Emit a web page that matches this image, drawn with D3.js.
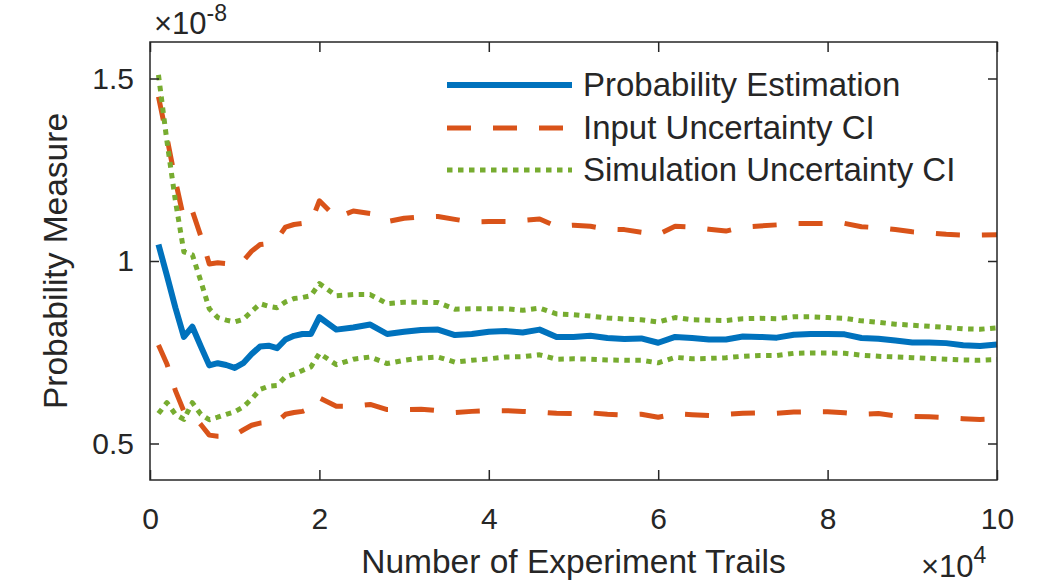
<!DOCTYPE html>
<html lang="en">
<head>
<meta charset="UTF-8">
<title>Probability Measure vs Number of Experiment Trails</title>
<script src="https://cdn.jsdelivr.net/npm/d3@7"></script>
<style>
    body { margin: 0; background: #fff; }
    text { font-family: "Liberation Sans", Arial, Helvetica, sans-serif; fill: #262626; }
</style>
</head>
<body>
<script>

    // number of trails (x)
    var trails = [1000, 2000, 3000, 4000, 5000, 6000, 7000, 8000, 9000, 10000,
        11000, 12000, 13000, 14000, 15000, 16000, 17000, 18000, 19000, 20000,
        22000, 24000, 26000, 28000, 30000, 32000, 34000, 36000, 38000, 40000,
        42000, 44000, 46000, 48000, 50000, 52000, 54000, 56000, 58000, 60000,
        62000, 64000, 66000, 68000, 70000, 72000, 74000, 76000, 78000, 80000,
        82000, 84000, 86000, 88000, 90000, 92000, 94000, 96000, 98000, 100000];

    // values in units of 1e-8
    var estimate = [1.045, 0.960, 0.872, 0.792, 0.820, 0.766, 0.714, 0.720, 0.715, 0.707,
        0.720, 0.745, 0.766, 0.768, 0.761, 0.785, 0.795, 0.800, 0.800, 0.846,
        0.812, 0.818, 0.826, 0.800, 0.806, 0.811, 0.812, 0.797, 0.800, 0.806,
        0.808, 0.804, 0.812, 0.792, 0.792, 0.795, 0.789, 0.786, 0.788, 0.776,
        0.792, 0.789, 0.785, 0.785, 0.793, 0.792, 0.790, 0.798, 0.800, 0.800,
        0.799, 0.789, 0.787, 0.782, 0.777, 0.777, 0.775, 0.769, 0.767, 0.771];

    var inputHigh = [1.450, 1.338, 1.220, 1.115, 1.137, 1.068, 0.992, 0.995, 0.993, 0.990,
        1.000, 1.027, 1.045, 1.048, 1.060, 1.093, 1.100, 1.103, 1.106, 1.165,
        1.118, 1.137, 1.130, 1.108, 1.117, 1.121, 1.122, 1.114, 1.107, 1.108,
        1.108, 1.111, 1.115, 1.095, 1.098, 1.095, 1.087, 1.086, 1.079, 1.073,
        1.095, 1.093, 1.087, 1.082, 1.093, 1.096, 1.099, 1.103, 1.103, 1.103,
        1.103, 1.094, 1.091, 1.086, 1.080, 1.077, 1.073, 1.071, 1.071, 1.072];

    var inputLow = [0.770, 0.718, 0.645, 0.588, 0.578, 0.552, 0.523, 0.520, 0.520, 0.523,
        0.537, 0.550, 0.556, 0.558, 0.559, 0.580, 0.585, 0.588, 0.597, 0.625,
        0.602, 0.602, 0.607, 0.593, 0.593, 0.594, 0.590, 0.585, 0.588, 0.590,
        0.590, 0.588, 0.586, 0.583, 0.582, 0.584, 0.580, 0.578, 0.580, 0.572,
        0.581, 0.579, 0.577, 0.580, 0.583, 0.584, 0.583, 0.586, 0.587, 0.587,
        0.584, 0.580, 0.582, 0.576, 0.574, 0.573, 0.571, 0.568, 0.566, 0.568];

    var simHigh = [1.510, 1.328, 1.165, 1.025, 1.017, 0.945, 0.869, 0.845, 0.838, 0.833,
        0.840, 0.862, 0.883, 0.876, 0.872, 0.888, 0.897, 0.900, 0.905, 0.938,
        0.905, 0.908, 0.908, 0.883, 0.887, 0.887, 0.886, 0.868, 0.869, 0.869,
        0.869, 0.865, 0.871, 0.855, 0.853, 0.849, 0.844, 0.841, 0.839, 0.833,
        0.845, 0.839, 0.838, 0.837, 0.842, 0.843, 0.842, 0.847, 0.847, 0.845,
        0.843, 0.836, 0.832, 0.827, 0.824, 0.821, 0.818, 0.814, 0.813, 0.817];

    var simLow = [0.582, 0.612, 0.580, 0.566, 0.612, 0.580, 0.565, 0.572, 0.580, 0.587,
        0.600, 0.622, 0.648, 0.657, 0.659, 0.683, 0.690, 0.700, 0.710, 0.747,
        0.716, 0.731, 0.737, 0.719, 0.728, 0.734, 0.737, 0.723, 0.728, 0.732,
        0.737, 0.738, 0.743, 0.731, 0.732, 0.731, 0.729, 0.728, 0.728, 0.721,
        0.736, 0.732, 0.733, 0.735, 0.739, 0.741, 0.741, 0.747, 0.748, 0.748,
        0.747, 0.742, 0.739, 0.737, 0.735, 0.733, 0.731, 0.729, 0.728, 0.730];

    var xTicks = [0, 20000, 40000, 60000, 80000, 100000];
    var yTicks = [0.5, 1, 1.5];

    var legendNames = ["Probability Estimation", "Input Uncertainty CI", "Simulation Uncertainty CI"];
</script>

<script>
    var width = 1050, height = 585;
    // 绘图区边界 (window.top 是只读的, 所以不用 top 做变量名)
    var plotL = 150, plotR = 997, plotT = 42, plotB = 480;
    var axisColor = "#262626";

    var svg = d3.select("body").append("svg")
        .attr("width", width)
        .attr("height", height);

    var x = d3.scaleLinear().domain([0, 100000]).range([plotL, plotR]);
    var y = d3.scaleLinear().domain([0.4, 1.6]).range([plotB, plotT]);

    // 线条样式
    var styles = {
        est: {color: "#0072BD", width: 6, dash: null},
        input: {color: "#D95319", width: 5, dash: "24,22"},
        sim: {color: "#77AC30", width: 5, dash: "5.5,5.5"}
    };

    var series = [
        {vals: inputHigh, s: styles.input},
        {vals: inputLow, s: styles.input},
        {vals: simHigh, s: styles.sim},
        {vals: simLow, s: styles.sim},
        {vals: estimate, s: styles.est}
    ];

    var line = d3.line()
        .x(function (d) { return x(d[0]); })
        .y(function (d) { return y(d[1]); });

    series.forEach(function (sr) {
        var pts = trails.map(function (t, i) { return [t, sr.vals[i]]; });
        svg.append("path")
            .datum(pts)
            .attr("d", line)
            .attr("fill", "none")
            .attr("stroke", sr.s.color)
            .attr("stroke-width", sr.s.width)
            .attr("stroke-dasharray", sr.s.dash)
            .attr("stroke-linejoin", "round");
    });

    // 坐标轴
    function styleAxis(g) {
        g.selectAll("path").remove();
        g.selectAll("line").attr("stroke", axisColor).attr("stroke-width", 1.5);
        g.selectAll("text").style("font-size", "30px").attr("fill", axisColor);
    }

    svg.append("g")
        .attr("transform", "translate(0," + plotB + ")")
        .call(d3.axisBottom(x).tickValues(xTicks).tickSize(-10).tickPadding(28)
            .tickFormat(function (d) { return d / 10000; }))
        .call(styleAxis);

    svg.append("g")
        .attr("transform", "translate(0," + plotT + ")")
        .call(d3.axisTop(x).tickValues(xTicks).tickSize(-10).tickFormat(""))
        .call(styleAxis);

    svg.append("g")
        .attr("transform", "translate(" + plotL + ",0)")
        .call(d3.axisLeft(y).tickValues(yTicks).tickSize(-9).tickPadding(16)
            .tickFormat(function (d) { return d; }))
        .call(styleAxis);

    svg.append("g")
        .attr("transform", "translate(" + plotR + ",0)")
        .call(d3.axisRight(y).tickValues(yTicks).tickSize(-9).tickFormat(""))
        .call(styleAxis);

    svg.append("rect")
        .attr("x", plotL).attr("y", plotT)
        .attr("width", plotR - plotL).attr("height", plotB - plotT)
        .attr("fill", "none")
        .attr("stroke", axisColor)
        .attr("stroke-width", 1.5);

    // 指数标注
    var expTop = svg.append("text").attr("x", 154).attr("y", 34).style("font-size", "31px");
    expTop.append("tspan").text("\u00d710");
    expTop.append("tspan").attr("dy", -13).style("font-size", "23px").text("-8");

    var expBot = svg.append("text").attr("x", 921).attr("y", 577).style("font-size", "31px");
    expBot.append("tspan").text("\u00d710");
    expBot.append("tspan").attr("dy", -14).style("font-size", "23px").text("4");

    // 轴标题
    svg.append("text")
        .attr("x", (plotL + plotR) / 2)
        .attr("y", 573)
        .attr("text-anchor", "middle")
        .style("font-size", "33.5px")
        .text("Number of Experiment Trails");

    svg.append("text")
        .attr("transform", "translate(67," + (plotT + plotB) / 2 + ") rotate(-90)")
        .attr("text-anchor", "middle")
        .style("font-size", "33.5px")
        .text("Probability Measure");

    // 图例
    var legendY = [85, 128, 170];
    var legendStyles = [styles.est, styles.input, styles.sim];
    for (var i = 0; i < legendNames.length; i++) {
        svg.append("line")
            .attr("x1", 447).attr("x2", 572)
            .attr("y1", legendY[i]).attr("y2", legendY[i])
            .attr("stroke", legendStyles[i].color)
            .attr("stroke-width", legendStyles[i].width)
            .attr("stroke-dasharray", legendStyles[i].dash);
        svg.append("text")
            .attr("x", 583)
            .attr("y", legendY[i] + 11)
            .style("font-size", "33px")
            .text(legendNames[i]);
    }
</script>
</body>
</html>
